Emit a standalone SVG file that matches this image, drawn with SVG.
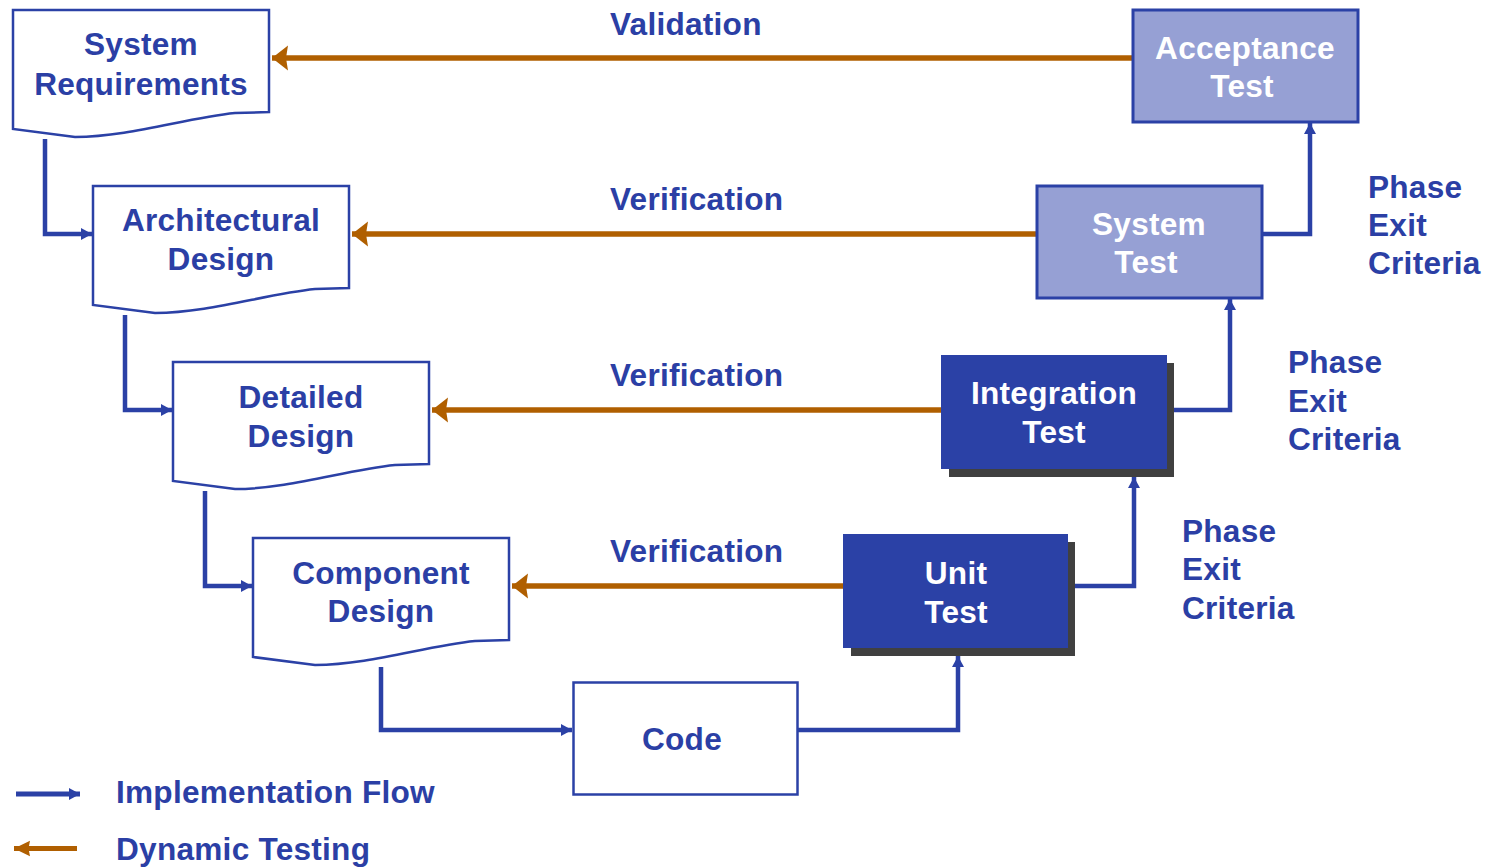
<svg xmlns="http://www.w3.org/2000/svg" width="1486" height="867" viewBox="0 0 1486 867">
<style>
text{font-family:"Liberation Sans",Arial,Helvetica,sans-serif;font-weight:bold;font-size:31.6px;letter-spacing:0.25px}
.bt{fill:#2B3FA5}
.wt{fill:#FFFFFF}
.c{text-anchor:middle}
.doc{fill:#FFFFFF;stroke:#2B41A6;stroke-width:2.5}
.light{fill:#96A0D4;stroke:#2B41A6;stroke-width:3}
.dark{fill:#2B41A6}
.shadow{fill:#404040}
.impl{fill:none;stroke:#2B41A6;stroke-width:4.5;stroke-linejoin:miter}
.test{fill:none;stroke:#B05F00;stroke-width:5.5}
</style>
<defs>
<marker id="ob" markerUnits="userSpaceOnUse" markerWidth="20" markerHeight="28" refX="16" refY="13" orient="auto" overflow="visible">
<path d="M0,0.5 L16,13 L0,25.5 L2,13 Z" fill="#B05F00"/>
</marker>
<marker id="obs" markerUnits="userSpaceOnUse" markerWidth="18" markerHeight="18" refX="16" refY="8" orient="auto" overflow="visible">
<path d="M0,0.3 L16,8 L0,15.7 L1.5,8 Z" fill="#B05F00"/>
</marker>
<marker id="bb" markerUnits="userSpaceOnUse" markerWidth="14" markerHeight="14" refX="11" refY="6" orient="auto" overflow="visible">
<path d="M0,0 L11,6 L0,12 Z" fill="#2B41A6"/>
</marker>
</defs>

<g id="connectors">
<path class="test" d="M1133,58 H272" marker-end="url(#ob)"/>
<path class="test" d="M1037,234 H352" marker-end="url(#ob)"/>
<path class="test" d="M941,410 H432" marker-end="url(#ob)"/>
<path class="test" d="M843,586 H512" marker-end="url(#ob)"/>
<path class="impl" d="M45,139 V234 H92" marker-end="url(#bb)"/>
<path class="impl" d="M125,315 V410 H172" marker-end="url(#bb)"/>
<path class="impl" d="M205,491 V586 H252" marker-end="url(#bb)"/>
<path class="impl" d="M381,667 V730 H572" marker-end="url(#bb)"/>
<path class="impl" d="M798,730 H958 V656" marker-end="url(#bb)"/>
<path class="impl" d="M1075,586 H1134 V477" marker-end="url(#bb)"/>
<path class="impl" d="M1174,410 H1230 V299" marker-end="url(#bb)"/>
<path class="impl" d="M1258,234 H1310 V123" marker-end="url(#bb)"/>
</g>

<g id="labels">
<text class="bt" x="610" y="35">Validation</text>
<text class="bt" x="610" y="210">Verification</text>
<text class="bt" x="610" y="386">Verification</text>
<text class="bt" x="610" y="562">Verification</text>
<text class="bt" x="1368" y="198">Phase</text>
<text class="bt" x="1368" y="236">Exit</text>
<text class="bt" x="1368" y="274">Criteria</text>
<text class="bt" x="1288" y="373">Phase</text>
<text class="bt" x="1288" y="412">Exit</text>
<text class="bt" x="1288" y="450">Criteria</text>
<text class="bt" x="1182" y="542">Phase</text>
<text class="bt" x="1182" y="580">Exit</text>
<text class="bt" x="1182" y="619">Criteria</text>
</g>

<g id="sysreq">
<path class="doc" d="M13,10 H269 V112 L235,113 C185,118 130,137 75,137 L13,129 Z"/>
<text class="bt c" x="141" y="55">System</text>
<text class="bt c" x="141" y="95">Requirements</text>
</g>
<g id="archdesign">
<path class="doc" d="M93,186 H349 V288 L315,289 C265,294 210,313 155,313 L93,305 Z"/>
<text class="bt c" x="221" y="231">Architectural</text>
<text class="bt c" x="221" y="270">Design</text>
</g>
<g id="detdesign">
<path class="doc" d="M173,362 H429 V464 L395,465 C345,470 290,489 235,489 L173,481 Z"/>
<text class="bt c" x="301" y="408">Detailed</text>
<text class="bt c" x="301" y="447">Design</text>
</g>
<g id="compdesign">
<path class="doc" d="M253,538 H509 V640 L475,641 C425,646 370,665 315,665 L253,657 Z"/>
<text class="bt c" x="381" y="584">Component</text>
<text class="bt c" x="381" y="622">Design</text>
</g>
<g id="code">
<rect class="doc" x="573.5" y="682.5" width="224" height="112"/>
<text class="bt c" x="682" y="750">Code</text>
</g>
<g id="unittest">
<rect class="shadow" x="851" y="542" width="224" height="114"/>
<rect class="dark" x="843" y="534" width="225" height="114"/>
<text class="wt c" x="956" y="584">Unit</text>
<text class="wt c" x="956" y="623">Test</text>
</g>
<g id="inttest">
<rect class="shadow" x="949" y="363" width="225" height="114"/>
<rect class="dark" x="941" y="355" width="226" height="114"/>
<text class="wt c" x="1054" y="404">Integration</text>
<text class="wt c" x="1054" y="443">Test</text>
</g>
<g id="systest">
<rect class="light" x="1037" y="186" width="225" height="112"/>
<text class="wt c" x="1149" y="235">System</text>
<text class="wt c" x="1146" y="273">Test</text>
</g>
<g id="acctest">
<rect class="light" x="1133" y="10" width="225" height="112"/>
<text class="wt c" x="1245" y="59">Acceptance</text>
<text class="wt c" x="1242" y="97">Test</text>
</g>

<g id="legend">
<path class="impl" d="M16,794 H80" marker-end="url(#bb)" style="stroke-width:5"/>
<text class="bt" x="116" y="803">Implementation Flow</text>
<path class="test" d="M77,848.5 H14" marker-end="url(#obs)" style="stroke-width:5"/>
<text class="bt" x="116" y="860">Dynamic Testing</text>
</g>
</svg>
